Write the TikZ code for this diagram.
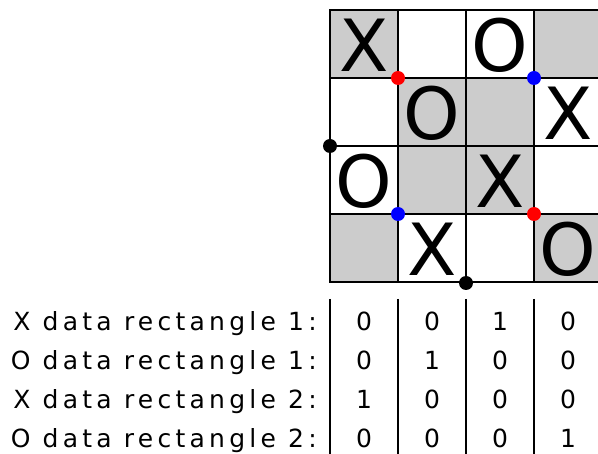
\documentclass[tikz,border=0pt]{standalone}
\usepackage{fontspec}
\setmainfont{DejaVu Sans}
\newfontfamily\trackedfont[LetterSpace=17]{DejaVu Sans}
\usepackage{tikz}
\definecolor{cellgray}{RGB}{204,204,204}
\definecolor{dotred}{RGB}{255,0,0}
\definecolor{dotblue}{RGB}{0,0,255}

\begin{document}
\begin{tikzpicture}[x=1pt,y=-1pt,
      glyph/.style={anchor=center,inner sep=0pt,font=\fontsize{72}{72}\selectfont},
      lbl/.style={anchor=base east,inner sep=0pt,font=\trackedfont\fontsize{25}{25}\selectfont},
      bit/.style={anchor=base,inner sep=0pt,font=\fontsize{25}{25}\selectfont},
      gridline/.style={line width=2.3pt},
      corner/.style={circle,inner sep=0pt,minimum size=14pt}
    ]
      \useasboundingbox (0,0) rectangle (598,454);
      % Shaded squares
      \fill[cellgray] (330,10)  rectangle ++(68,68);
      \fill[cellgray] (534,10)  rectangle ++(68,68);
      \fill[cellgray] (398,78)  rectangle ++(136,136);
      \fill[cellgray] (330,214) rectangle ++(68,68);
      \fill[cellgray] (534,214) rectangle ++(68,68);
      % Board lines
      \draw[gridline] (330,10) rectangle (602,282);
      \draw[gridline] (398,10) -- (398,282);
      \draw[gridline] (466,10) -- (466,282);
      \draw[gridline] (534,10) -- (534,282);
      \draw[gridline] (330,78)  -- (602,78);
      \draw[gridline] (330,146) -- (602,146);
      \draw[gridline] (330,214) -- (602,214);
      % Marks, row by row
      \node[glyph] (m11) at (364,45)  {X};
      \node[glyph] (m13) at (500,45)  {O};
      \node[glyph] (m22) at (432,113) {O};
      \node[glyph] (m24) at (568,113) {X};
      \node[glyph] (m31) at (364,181) {O};
      \node[glyph] (m33) at (500,181) {X};
      \node[glyph] (m42) at (432,249) {X};
      \node[glyph] (m44) at (568,249) {O};
      % Corner dots
      \node[corner,fill=dotred]  (r1) at (398,78)  {};
      \node[corner,fill=dotred]  (r2) at (534,214) {};
      \node[corner,fill=dotblue] (b1) at (534,78)  {};
      \node[corner,fill=dotblue] (b2) at (398,214) {};
      \node[corner,fill=black]   (k1) at (330,146) {};
      \node[corner,fill=black]   (k2) at (466,283) {};
      % Data rows
      \draw[gridline] (330,299) -- (330,454);
      \draw[gridline] (398,299) -- (398,454);
      \draw[gridline] (466,299) -- (466,454);
      \draw[gridline] (534,299) -- (534,454);
      \node[lbl] (l1) at (317,331) {X data rectangle 1:};
      \node[lbl] (l2) at (317,370) {O data rectangle 1:};
      \node[lbl] (l3) at (317,409) {X data rectangle 2:};
      \node[lbl] (l4) at (317,448) {O data rectangle 2:};
      \node[bit] (d11) at (364,331) {0};
      \node[bit] (d12) at (432,331) {0};
      \node[bit] (d13) at (500,331) {1};
      \node[bit] (d14) at (568,331) {0};
      \node[bit] (d21) at (364,370) {0};
      \node[bit] (d22) at (432,370) {1};
      \node[bit] (d23) at (500,370) {0};
      \node[bit] (d24) at (568,370) {0};
      \node[bit] (d31) at (364,409) {1};
      \node[bit] (d32) at (432,409) {0};
      \node[bit] (d33) at (500,409) {0};
      \node[bit] (d34) at (568,409) {0};
      \node[bit] (d41) at (364,448) {0};
      \node[bit] (d42) at (432,448) {0};
      \node[bit] (d43) at (500,448) {0};
      \node[bit] (d44) at (568,448) {1};
    \end{tikzpicture}
\end{document}
